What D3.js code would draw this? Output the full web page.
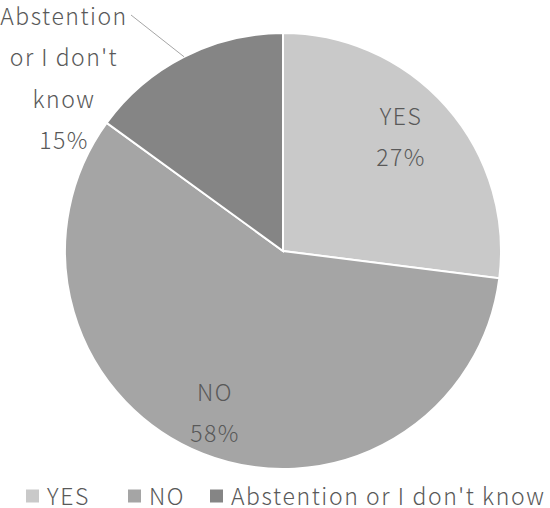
<!DOCTYPE html>
<html>
<head>
<meta charset="utf-8">
<script src="https://cdn.jsdelivr.net/npm/d3@7"></script>
<style>
  body { margin: 0; background: #fff; }
  svg { display: block; font-family: "Noto Sans CJK JP", "Noto Sans", sans-serif; font-weight: 300; }
</style>
</head>
<body>
<svg id="chart" width="550" height="508"></svg>
<script>
// data
const categories = ["YES", "NO", "Abstention or I don't know"];
const values = [27, 58, 15];
const colors = ["#c9c9c9", "#a5a5a5", "#858585"];

const width = 550, height = 508;
const cx = 283, cy = 251, radius = 218;

const svg = d3.select("#chart");
const data = categories.map((c, i) => ({ name: c, value: values[i], color: colors[i] }));

const pie = d3.pie().sort(null).value(d => d.value);
const arc = d3.arc().innerRadius(0).outerRadius(radius);
const arcs = pie(data);

const g = svg.append("g").attr("transform", `translate(${cx},${cy})`);

g.selectAll("path.slice")
  .data(arcs)
  .enter()
  .append("path")
  .attr("class", "slice")
  .attr("d", arc)
  .attr("fill", d => d.data.color)
  .attr("stroke", "#fff")
  .attr("stroke-width", 2);

// labels (lines of text, placed per slice)
const labelSpots = [
  { x: 401, y: 116, lines: ["YES", "27%"] },
  { x: 215, y: 392, lines: ["NO", "58%"] },
  { x: 64, y: 16, lines: ["Abstention", "or I don't", "know", "15%"] }
];
const lineGap = 41.5;

labelSpots.forEach((spot, i) => {
  const t = svg.append("text")
    .attr("text-anchor", "middle")
    .attr("fill", "#595959")
    .style("font-size", "23px")
    .style("letter-spacing", "1.5px");
  spot.lines.forEach((ln, j) => {
    const txt = j === spot.lines.length - 1 ? values[i] + "%" : ln;
    t.append("tspan")
      .attr("x", spot.x)
      .attr("y", spot.y + j * lineGap)
      .attr("dy", "0.37em")
      .text(txt);
  });
});

// leader line for the abstention label
const ang = (arcs[2].startAngle + arcs[2].endAngle) / 2;
svg.append("line")
  .attr("x1", 131)
  .attr("y1", 15)
  .attr("x2", cx + Math.sin(ang) * radius)
  .attr("y2", cy - Math.cos(ang) * radius)
  .attr("stroke", "#a6a6a6")
  .attr("stroke-width", 1);

// legend
const legendX = [26, 128, 210];
const legend = svg.append("g").attr("transform", "translate(0,496)");
data.forEach((d, i) => {
  legend.append("rect")
    .attr("x", legendX[i])
    .attr("y", -6.5)
    .attr("width", 13)
    .attr("height", 13)
    .attr("fill", d.color);
  legend.append("text")
    .attr("x", legendX[i] + 21)
    .attr("y", 0)
    .attr("dy", "0.37em")
    .attr("fill", "#595959")
    .style("font-size", "23px")
    .style("letter-spacing", "1.6px")
    .text(d.name);
});
</script>
</body>
</html>
